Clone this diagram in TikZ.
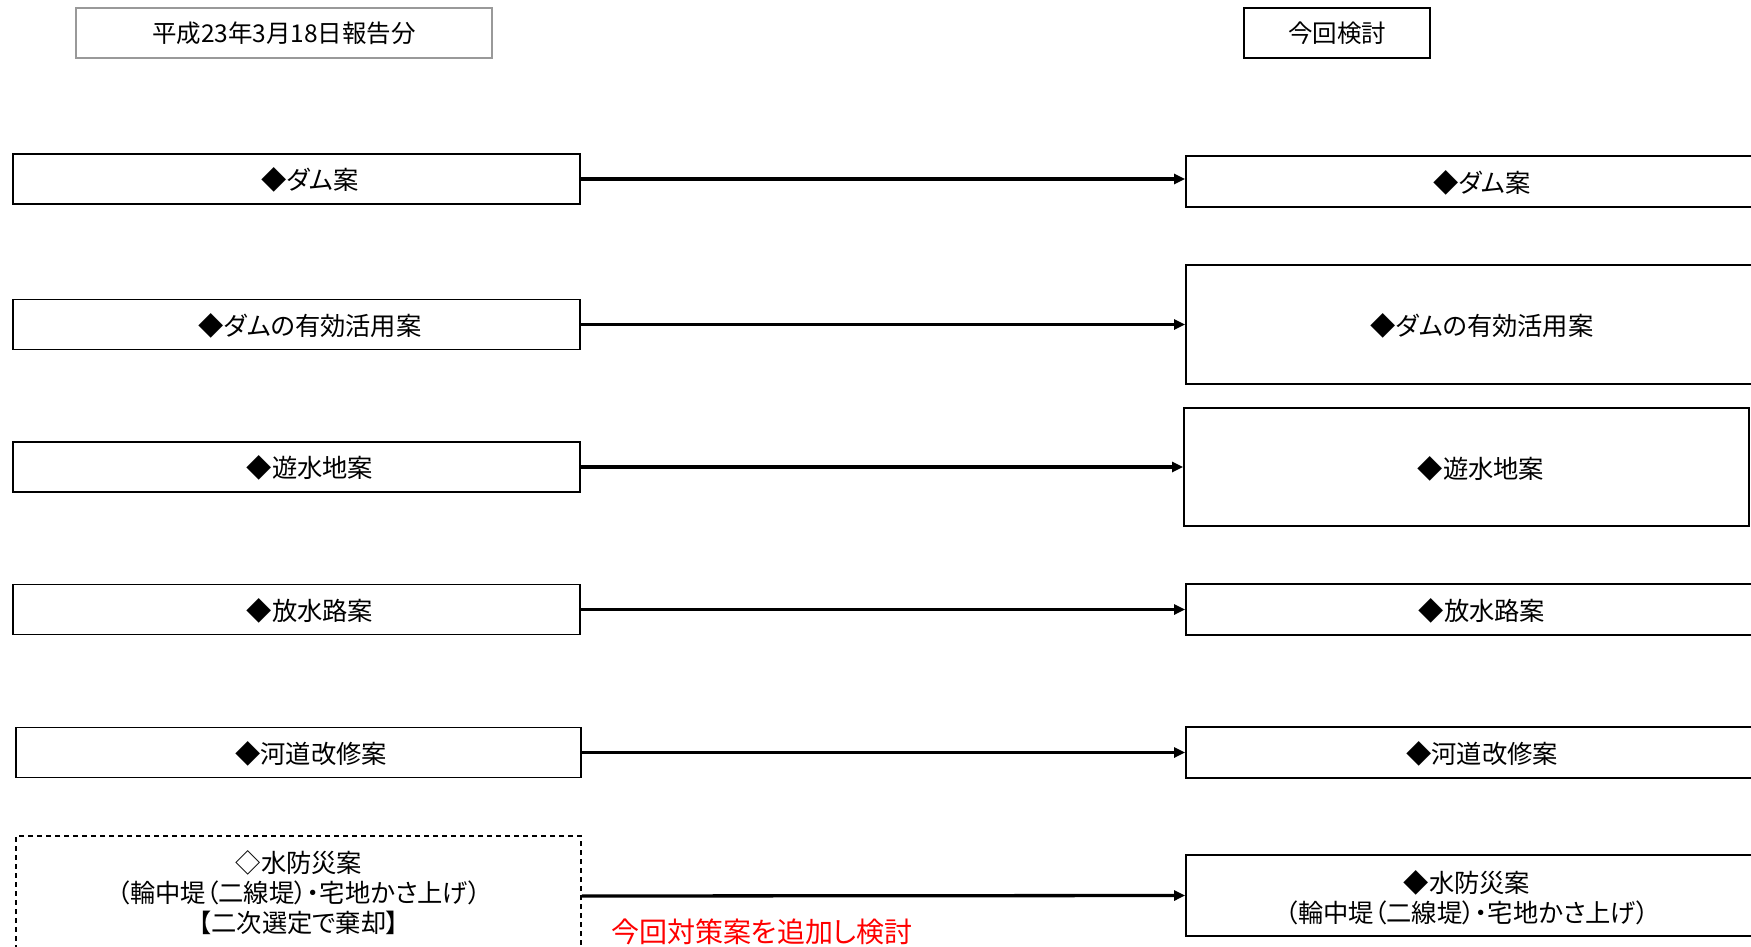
\documentclass[tikz,border=0pt]{standalone}
\usepackage{fontspec}
\setmainfont{Noto Sans CJK JP}[RawFeature={+palt}]
\usetikzlibrary{arrows.meta}
\tikzset{
  box/.style={draw=black, line width=1.5pt, minimum height=#1, inner sep=0pt, anchor=center},
  lbox/.style={box=50pt, minimum width=567pt},
  rbox/.style={draw=black, line width=1.8pt, minimum width=592pt, minimum height=#1, inner sep=0pt},
  hdr/.style={draw=gray, line width=1.5pt, minimum height=50pt, inner sep=0pt, font=\fontsize{24.5}{28}\selectfont},
  txt/.style={inner sep=0pt, font=\fontsize{25.3}{30}\selectfont, align=center},
  arr/.style={line width=3.3pt, -{Triangle[length=11pt,width=10pt]}},
}
\begin{document}
\begin{tikzpicture}[x=1pt,y=1pt]
\clip (0,0) rectangle (1751,-947);
\fill[white] (0,0) rectangle (1751,-947);
% headers
\node[hdr, minimum width=416pt, draw=gray!80] (H1) at (284,-33) {平成23年3月18日報告分};
\node[hdr, minimum width=186pt, draw=black] (H2) at (1337,-33) {今回検討};
% left boxes
\node[lbox] (L1) at (296.5,-179) {};
\node[lbox] (L2) at (296.5,-324.5) {};
\node[lbox] (L3) at (296.5,-467) {};
\node[lbox] (L4) at (296.5,-609.5) {};
\node[lbox, minimum width=565pt] (L5) at (298.5,-752.5) {};
\node[box=120pt, minimum width=565pt, dashed, dash pattern=on 5pt off 4pt] (L6) at (298.5,-896) {};
\node[txt] (L1t) at (310,-180) {◆ダム案};
\node[txt] (L2t) at (310,-326) {◆ダムの有効活用案};
\node[txt] (L3t) at (310,-468) {◆遊水地案};
\node[txt] (L4t) at (310,-611) {◆放水路案};
\node[txt] (L5t) at (311,-754) {◆河道改修案};
\node[txt] (L6t) at (299,-893) {◇水防災案\\（輪中堤（二線堤）・宅地かさ上げ）\\【二次選定で棄却】};
% right boxes
\node[rbox=51pt] (R1) at (1482,-181.5) {};
\node[rbox=119pt] (R2) at (1482,-324.5) {};
\node[rbox=118pt, minimum width=565pt] (R3) at (1466.5,-467) {};
\node[rbox=51pt] (R4) at (1482,-609.5) {};
\node[rbox=51pt] (R5) at (1482,-752.5) {};
\node[rbox=81pt] (R6) at (1482,-895.5) {};
\node[txt] (R1t) at (1482,-183) {◆ダム案};
\node[txt] (R2t) at (1482,-326) {◆ダムの有効活用案};
\node[txt] (R3t) at (1481,-469) {◆遊水地案};
\node[txt] (R4t) at (1482,-611) {◆放水路案};
\node[txt] (R5t) at (1482,-754) {◆河道改修案};
\node[txt] (R6t) at (1467,-898) {◆水防災案\\（輪中堤（二線堤）・宅地かさ上げ）};
% arrows
\draw[arr] (L1.east) -- (L1.east -| R1.west);
\draw[arr] (L2.east) -- (R2.west);
\draw[arr] (L3.east) -- (R3.west);
\draw[arr] (L4.east) -- (R4.west);
\draw[arr] (L5.east) -- (R5.west);
\draw[arr] (L6.east) -- (R6.west);
% red note
\node[inner sep=0pt, text=red, font=\fontsize{28}{32}\selectfont] (note) at (762,-932) {今回対策案を追加し検討};
\end{tikzpicture}
\end{document}
